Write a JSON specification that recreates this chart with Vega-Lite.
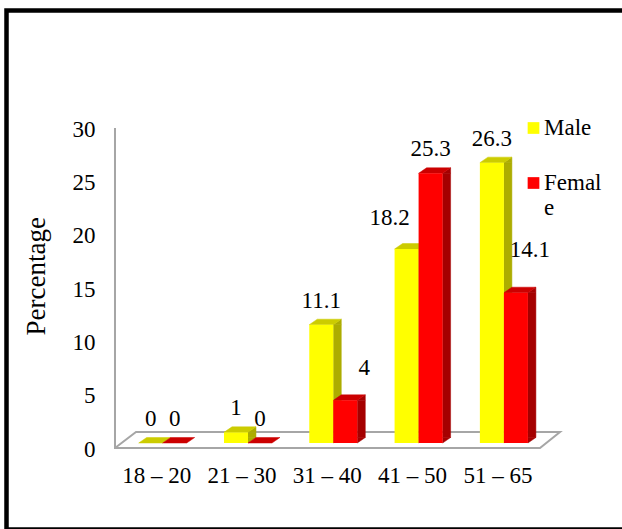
{
  "$schema": "https://vega.github.io/schema/vega-lite/v6.json",
  "width": 615.5,
  "height": 519,
  "autosize": "none",
  "padding": {"left": 6.5, "top": 10.5, "right": 0, "bottom": -0.5},
  "background": "white",
  "config": {
    "view": {"stroke": "black", "strokeWidth": 4.5, "strokeDash": [615.5, 519, 3000]},
    "font": "Liberation Serif, Times New Roman, serif",
    "axis": {"grid": false, "labelFont": "Liberation Serif, Times New Roman, serif", "titleFont": "Liberation Serif, Times New Roman, serif"},
    "legend": {"labelFont": "Liberation Serif, Times New Roman, serif"},
    "text": {"font": "Liberation Serif, Times New Roman, serif"}
  },
  "data": {
    "values": [
      {"age": "18 – 20", "gender": "Male", "pct": 0},
      {"age": "18 – 20", "gender": "Female", "pct": 0},
      {"age": "21 – 30", "gender": "Male", "pct": 1},
      {"age": "21 – 30", "gender": "Female", "pct": 0},
      {"age": "31 – 40", "gender": "Male", "pct": 11.1},
      {"age": "31 – 40", "gender": "Female", "pct": 4},
      {"age": "41 – 50", "gender": "Male", "pct": 18.2},
      {"age": "41 – 50", "gender": "Female", "pct": 25.3},
      {"age": "51 – 65", "gender": "Male", "pct": 26.3},
      {"age": "51 – 65", "gender": "Female", "pct": 14.1}
    ]
  },
  "layer": [
    {
      "transform": [{"aggregate": [{"op": "count", "as": "n"}]}],
      "mark": {"type": "point", "shape": "M-2.183,-3.15L-2.183,0.05L2.067,0.05L2.267,-0.11L-1.973,-0.11L-2.183,0.05", "size": 40000, "filled": false, "color": "#a6a6a6", "strokeWidth": 2, "opacity": 1},
      "encoding": {"x": {"datum": "31 – 40"}, "y": {"datum": 0}}
    },
    {
      "transform": [{"filter": "datum.gender == 'Male' && datum.pct > 0.5"}],
      "mark": {"type": "bar", "width": 8, "xOffset": 4, "y2Offset": -5.5, "color": "#adad00", "stroke": "#adad00", "strokeWidth": 0.5},
      "encoding": {"x": {"field": "age", "type": "nominal"}, "y": {"field": "pct", "type": "quantitative"}, "y2": {"datum": 0}}
    },
    {
      "transform": [{"filter": "datum.gender == 'Female' && datum.pct > 0.5"}],
      "mark": {"type": "bar", "width": 8, "xOffset": 28, "y2Offset": -5.5, "color": "#a50000", "stroke": "#a50000", "strokeWidth": 0.5},
      "encoding": {"x": {"field": "age", "type": "nominal"}, "y": {"field": "pct", "type": "quantitative"}, "y2": {"datum": 0}}
    },
    {
      "transform": [{"filter": "datum.gender == 'Male' && datum.pct > 0.5"}],
      "mark": {"type": "point", "shape": "M0.75,0L1.25,-0.344L1.25,0Z", "size": 1024, "filled": true, "opacity": 1, "xOffset": -12, "color": "#adad00", "stroke": "#adad00", "strokeWidth": 0.5},
      "encoding": {"x": {"field": "age", "type": "nominal"}, "y": {"field": "pct", "type": "quantitative"}}
    },
    {
      "transform": [{"filter": "datum.gender == 'Female' && datum.pct > 0.5"}],
      "mark": {"type": "point", "shape": "M0.75,0L1.25,-0.344L1.25,0Z", "size": 1024, "filled": true, "opacity": 1, "xOffset": 12, "color": "#a50000", "stroke": "#a50000", "strokeWidth": 0.5},
      "encoding": {"x": {"field": "age", "type": "nominal"}, "y": {"field": "pct", "type": "quantitative"}}
    },
    {
      "transform": [{"filter": "datum.gender == 'Male' && datum.pct > 0.5"}],
      "mark": {"type": "point", "shape": "M0.75,-0.344L0.75,0L1.25,-0.344Z", "size": 1024, "filled": true, "opacity": 1, "xOffset": -12, "color": "#adad00", "stroke": "#adad00", "strokeWidth": 0.5},
      "encoding": {"x": {"field": "age", "type": "nominal"}, "y": {"datum": 0}}
    },
    {
      "transform": [{"filter": "datum.gender == 'Female' && datum.pct > 0.5"}],
      "mark": {"type": "point", "shape": "M0.75,-0.344L0.75,0L1.25,-0.344Z", "size": 1024, "filled": true, "opacity": 1, "xOffset": 12, "color": "#a50000", "stroke": "#a50000", "strokeWidth": 0.5},
      "encoding": {"x": {"field": "age", "type": "nominal"}, "y": {"datum": 0}}
    },
    {
      "transform": [{"filter": "datum.gender == 'Male'"}],
      "mark": {"type": "point", "shape": "M-0.75,0L0.75,0L1.25,-0.344L-0.25,-0.344Z", "size": 1024, "filled": true, "opacity": 1, "xOffset": -12, "color": "#cccc00", "stroke": "#cccc00", "strokeWidth": 0.5},
      "encoding": {"x": {"field": "age", "type": "nominal"}, "y": {"field": "pct", "type": "quantitative"}}
    },
    {
      "transform": [{"filter": "datum.gender == 'Female'"}],
      "mark": {"type": "point", "shape": "M-0.75,0L0.75,0L1.25,-0.344L-0.25,-0.344Z", "size": 1024, "filled": true, "opacity": 1, "xOffset": 12, "color": "#cc0000", "stroke": "#cc0000", "strokeWidth": 0.5},
      "encoding": {"x": {"field": "age", "type": "nominal"}, "y": {"field": "pct", "type": "quantitative"}}
    },
    {
      "mark": {"type": "bar"},
      "encoding": {
        "x": {
          "field": "age", "type": "nominal",
          "scale": {"domain": ["18 – 20", "21 – 30", "31 – 40", "41 – 50", "51 – 65"], "range": [108.5, 533.5], "paddingInner": 0.437, "paddingOuter": 0.2097, "align": 0.662},
          "axis": {"orient": "bottom", "offset": -81.5, "domain": false, "ticks": false, "bandPosition": 0.5, "labelPadding": 16, "labelAlign": "center", "labelBaseline": "top", "labelFontSize": 23, "labelColor": "black", "labelOffset": -6, "labelAngle": 0, "title": null}
        },
        "xOffset": {"field": "gender", "type": "nominal", "scale": {"domain": ["Male", "Female"], "paddingInner": 0, "paddingOuter": 0}},
        "y": {
          "field": "pct", "type": "quantitative",
          "scale": {"domain": [-8.114, 40.572], "nice": false, "zero": false},
          "axis": {"orient": "left", "offset": -108.5, "values": [0, 5, 10, 15, 20, 25, 30], "domain": false, "ticks": false, "grid": false, "labelPadding": 20, "labelFontSize": 23, "labelColor": "black", "labelOffset": 6, "title": "Percentage", "titleFontSize": 27, "titleFontWeight": "normal", "titleColor": "black", "titleX": -71, "titleY": 265.3, "titleBaseline": "alphabetic", "titleAngle": -90, "titleAlign": "center"}
        },
        "y2": {"datum": 0},
        "color": {
          "field": "gender", "type": "nominal",
          "scale": {"domain": ["Male", "Female"], "range": ["#ffff00", "#ff0000"]},
          "legend": {"orient": "none", "legendX": 515.5, "legendY": 106, "title": null, "symbolType": "square", "symbolSize": 137, "symbolStrokeWidth": 0, "symbolOpacity": 1, "labelFontSize": 23, "labelColor": "black", "rowPadding": 31, "labelOffset": -1, "padding": 0, "labelLimit": 0, "labelExpr": "datum.label == 'Female' ? ['Femal', 'e'] : datum.label"}
        }
      }
    },
    {
      "transform": [{"filter": "!((datum.age == '41 – 50' && datum.gender == 'Male') || (datum.age == '51 – 65' && datum.gender == 'Female') || (datum.age == '31 – 40' && datum.gender == 'Female'))"}],
      "mark": {"type": "text", "fontSize": 23, "font": "Liberation Serif, Times New Roman, serif", "color": "black", "baseline": "middle", "align": "center", "dy": -24},
      "encoding": {"x": {"field": "age", "type": "nominal"}, "xOffset": {"field": "gender", "type": "nominal"}, "y": {"field": "pct", "type": "quantitative"}, "text": {"field": "pct", "type": "quantitative"}}
    },
    {
      "transform": [{"filter": "datum.age == '41 – 50' && datum.gender == 'Male'"}],
      "mark": {"type": "text", "fontSize": 23, "font": "Liberation Serif, Times New Roman, serif", "color": "black", "baseline": "middle", "align": "center", "dx": -17, "dy": -31},
      "encoding": {"x": {"field": "age", "type": "nominal"}, "xOffset": {"field": "gender", "type": "nominal"}, "y": {"field": "pct", "type": "quantitative"}, "text": {"field": "pct", "type": "quantitative"}}
    },
    {
      "transform": [{"filter": "datum.age == '51 – 65' && datum.gender == 'Female'"}],
      "mark": {"type": "text", "fontSize": 23, "font": "Liberation Serif, Times New Roman, serif", "color": "black", "baseline": "middle", "align": "center", "dx": 14, "dy": -43},
      "encoding": {"x": {"field": "age", "type": "nominal"}, "xOffset": {"field": "gender", "type": "nominal"}, "y": {"field": "pct", "type": "quantitative"}, "text": {"field": "pct", "type": "quantitative"}}
    },
    {
      "transform": [{"filter": "datum.age == '31 – 40' && datum.gender == 'Female'"}],
      "mark": {"type": "text", "fontSize": 23, "font": "Liberation Serif, Times New Roman, serif", "color": "black", "baseline": "middle", "align": "center", "dx": 19, "dy": -32},
      "encoding": {"x": {"field": "age", "type": "nominal"}, "xOffset": {"field": "gender", "type": "nominal"}, "y": {"field": "pct", "type": "quantitative"}, "text": {"field": "pct", "type": "quantitative"}}
    }
  ]
}
